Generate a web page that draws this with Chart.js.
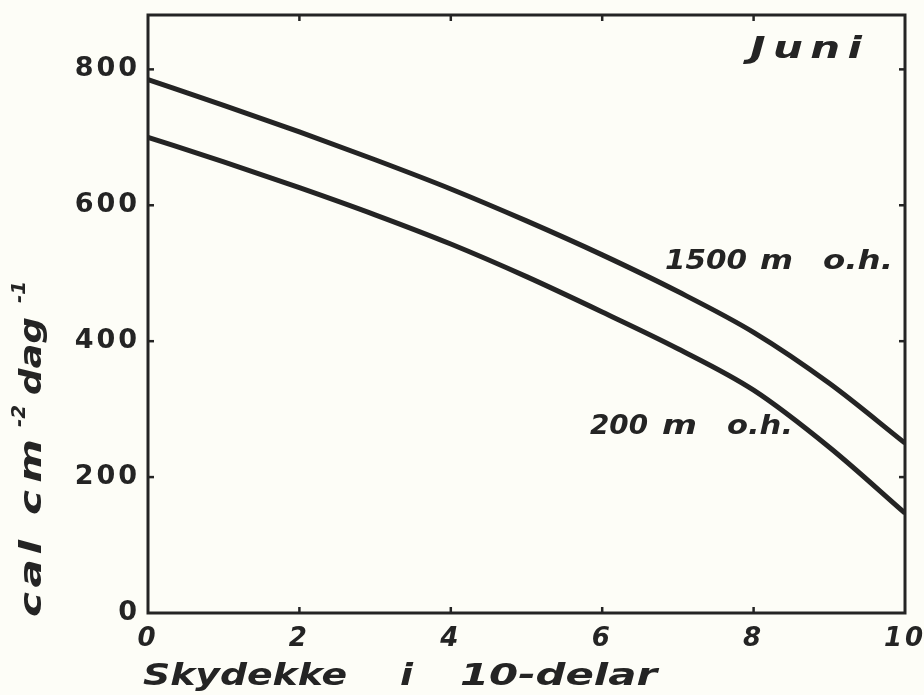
<!DOCTYPE html>
<html>
<head>
<meta charset="utf-8">
<script src="https://cdn.jsdelivr.net/npm/chart.js@4/dist/chart.umd.min.js"></script>
<style>
  html, body { margin: 0; padding: 0; background: #fdfdf7; }
  #wrap { width: 924px; height: 695px; }
</style>
</head>
<body>
<div id="wrap"><canvas id="c" width="924" height="695"></canvas></div>
<script>
// Cloud cover in tenths (Skydekke i 10-delar)
const cloudCover = [0, 1, 2, 3, 4, 5, 6, 7, 8, 9, 10];
// Daily global radiation in June, cal cm^-2 day^-1
const radiation1500m = [785, 747, 708, 667, 624, 577, 527, 473, 413, 338, 250];
const radiation200m  = [700, 664, 626, 586, 543, 495, 443, 389, 328, 244, 147];
const yTicks = [0, 200, 400, 600, 800];
const xTicks = [0, 2, 4, 6, 8, 10];

const INK = '#242424';
const FONT = '"DejaVu Sans", sans-serif';

function pts(xs, ys) { return xs.map((x, i) => ({ x: x, y: ys[i] })); }

// Draw a word over a given width: stretch the glyphs a little, then space them
function fitText(ctx, text, x, y, width) {
  ctx.letterSpacing = '0px';
  const w = ctx.measureText(text).width;
  const sx = Math.min(Math.max(width / w, 0.8), 1.4);
  const rest = width / sx - w;
  const gap = text.length > 1 ? rest / (text.length - 1) : 0;
  ctx.save();
  ctx.translate(x, y);
  ctx.scale(sx, 1);
  ctx.letterSpacing = gap + 'px';
  ctx.textAlign = 'left';
  ctx.fillText(text, 0, 0);
  ctx.restore();
}

const frame = {
  id: 'frame',
  beforeDraw(chart) {
    // hand-lettered look: wide spacing for the tick labels
    chart.ctx.letterSpacing = '3px';
  },
  beforeDatasetsDraw(chart) {
    const { ctx, chartArea: a, scales } = chart;
    ctx.save();
    ctx.strokeStyle = INK;
    ctx.lineWidth = 3;
    ctx.strokeRect(a.left, a.top, a.right - a.left, a.bottom - a.top);
    ctx.lineWidth = 2.5;
    const t = 6;
    yTicks.forEach(v => {
      if (v === 0) return;
      const py = scales.y.getPixelForValue(v);
      ctx.beginPath(); ctx.moveTo(a.left, py); ctx.lineTo(a.left + t, py); ctx.stroke();
      ctx.beginPath(); ctx.moveTo(a.right, py); ctx.lineTo(a.right - t, py); ctx.stroke();
    });
    xTicks.forEach(v => {
      if (v === 0 || v === 10) return;
      const px = scales.x.getPixelForValue(v);
      ctx.beginPath(); ctx.moveTo(px, a.bottom); ctx.lineTo(px, a.bottom - t); ctx.stroke();
      ctx.beginPath(); ctx.moveTo(px, a.top); ctx.lineTo(px, a.top + t); ctx.stroke();
    });
    ctx.restore();
  },
  afterDraw(chart) {
    const { ctx } = chart;
    ctx.save();
    ctx.fillStyle = INK;
    ctx.textBaseline = 'middle';

    ctx.font = 'italic bold 30px ' + FONT;
    fitText(ctx, 'Juni', 750, 50, 112);

    ctx.font = 'italic bold 26px ' + FONT;
    fitText(ctx, '1500', 665, 262, 82);
    fitText(ctx, 'm', 760, 262, 33);
    fitText(ctx, 'o.h.', 823, 262, 70);

    fitText(ctx, '200', 590, 427, 58);
    fitText(ctx, 'm', 662, 427, 35);
    fitText(ctx, 'o.h.', 727, 427, 66);

    ctx.font = 'italic bold 30px ' + FONT;
    fitText(ctx, 'Skydekke', 143, 677, 204);
    fitText(ctx, 'i', 400, 677, 13);
    fitText(ctx, '10-delar', 460, 677, 197);

    // vertical axis title, read bottom to top
    ctx.translate(33, 617);
    ctx.rotate(-Math.PI / 2);
    ctx.font = 'italic bold 30px ' + FONT;
    fitText(ctx, 'cal', 0, 0, 77);
    fitText(ctx, 'cm', 102, 0, 76);
    fitText(ctx, 'dag', 222, 0, 78);
    ctx.font = 'italic bold 20px ' + FONT;
    fitText(ctx, '-2', 190, -13, 22);
    fitText(ctx, '-1', 314, -13, 22);
    ctx.restore();
  }
};

// keep the frame at a fixed place: drop the label overhang padding
function noOverhang(s) {
  s.paddingLeft = 0; s.paddingRight = 0; s.paddingTop = 0; s.paddingBottom = 0;
}

new Chart(document.getElementById('c'), {
  type: 'line',
  data: {
    datasets: [
      { label: '1500 m o.h.', data: pts(cloudCover, radiation1500m) },
      { label: '200 m o.h.',  data: pts(cloudCover, radiation200m) }
    ]
  },
  options: {
    responsive: false,
    animation: false,
    devicePixelRatio: 1,
    layout: { padding: { left: 0, top: 15, right: 19, bottom: 0 } },
    elements: {
      line: { borderColor: INK, borderWidth: 5, tension: 0.4, cubicInterpolationMode: 'monotone', fill: false, borderCapStyle: 'butt' },
      point: { radius: 0, hoverRadius: 0 }
    },
    plugins: { legend: { display: false }, tooltip: { enabled: false } },
    scales: {
      x: {
        type: 'linear', min: 0, max: 10,
        afterBuildTicks: s => { s.ticks = xTicks.map(v => ({ value: v })); },
        afterFit: s => { s.height = 82; noOverhang(s); },
        grid: { display: false, drawTicks: false },
        border: { display: false },
        ticks: {
          padding: 11,
          maxRotation: 0,
          color: INK,
          font: { family: FONT, size: 26, weight: 'bold', style: 'italic' },
          callback: v => String(v)
        }
      },
      y: {
        type: 'linear', min: 0, max: 880,
        afterBuildTicks: s => { s.ticks = yTicks.map(v => ({ value: v })); },
        afterFit: s => { s.width = 148; noOverhang(s); },
        grid: { display: false, drawTicks: false },
        border: { display: false },
        ticks: {
          padding: 8,
          color: INK,
          font: { family: FONT, size: 27, weight: 'bold' },
          callback: v => String(v)
        }
      }
    }
  },
  plugins: [frame]
});
</script>
</body>
</html>
